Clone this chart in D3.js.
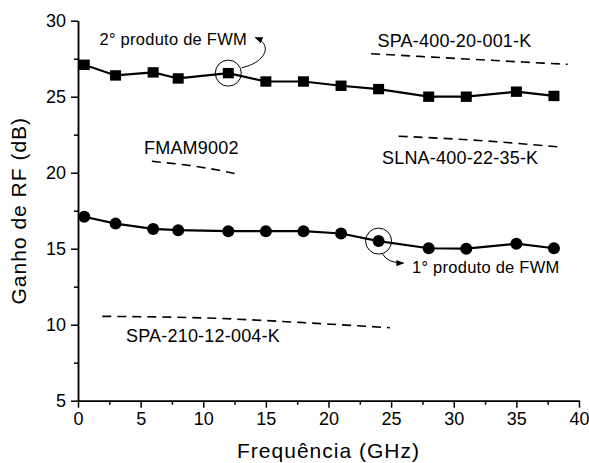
<!DOCTYPE html>
<html>
<head>
<meta charset="utf-8">
<script src="https://cdn.jsdelivr.net/npm/d3@7"></script>
<style>
  body { margin: 0; background: #fff; }
  text { font-family: Arial, "Liberation Sans", sans-serif; fill: #000; }
</style>
</head>
<body>
<svg></svg>
<script>
const width = 589, height = 463;
const margin = { left: 78, right: 10, top: 20.7, bottom: 62.3 };

// tick labels
const x_ticks = [0, 5, 10, 15, 20, 25, 30, 35, 40];
const x_minor = [2.5, 7.5, 12.5, 17.5, 22.5, 27.5, 32.5, 37.5];
const y_ticks = [5, 10, 15, 20, 25, 30];
const y_minor = [7.5, 12.5, 17.5, 22.5, 27.5];

// measured gain (dB) vs frequency (GHz)
const freq = [0.5, 3, 6, 8, 12, 15, 18, 21, 24, 28, 31, 35, 38];
const gain_fwm2 = [27.1, 26.4, 26.6, 26.2, 26.55, 26.0, 26.0, 25.72, 25.5, 25.0, 25.0, 25.33, 25.05];
const gain_fwm1 = [17.1, 16.65, 16.3, 16.22, 16.15, 16.15, 16.15, 16.0, 15.5, 15.03, 15.0, 15.33, 15.03];

// commercial amplifier reference curves [GHz, dB]
const spa400 = [[23.4, 27.83], [31, 27.48], [39.1, 27.13]];
const slna400 = [[25.6, 22.4], [32, 22.12], [38.3, 21.7]];
const fmam9002 = [[5.9, 20.75], [10.3, 20.3], [12.5, 19.95]];
const spa210 = [[1.94, 10.55], [11, 10.42], [17.7, 10.15], [24.9, 9.8]];

const svg = d3.select("svg").attr("width", width).attr("height", height);

const x_scale = d3.scaleLinear().domain([0, 40]).range([margin.left, width - margin.right]);
const y_scale = d3.scaleLinear().domain([5, 30]).range([height - margin.bottom, margin.top]);

// arrow marker
svg.append("defs").append("marker")
  .attr("id", "arrow")
  .attr("viewBox", "0 0 10 10")
  .attr("refX", 9).attr("refY", 5)
  .attr("markerWidth", 8).attr("markerHeight", 8)
  .attr("markerUnits", "userSpaceOnUse")
  .attr("orient", "auto")
  .append("path")
  .attr("d", "M0,1 L10,5 L0,9 z")
  .attr("fill", "#000");

// axes
svg.append("g")
  .attr("transform", `translate(0,${height - margin.bottom})`)
  .call(d3.axisBottom(x_scale).tickValues(x_ticks).tickSize(7).tickPadding(5).tickSizeOuter(0));
svg.append("g")
  .attr("transform", `translate(0,${height - margin.bottom})`)
  .call(d3.axisBottom(x_scale).tickValues(x_minor).tickSize(4).tickFormat("").tickSizeOuter(0));

svg.append("g")
  .attr("transform", `translate(${margin.left},0)`)
  .call(d3.axisLeft(y_scale).tickValues(y_ticks).tickSize(7).tickPadding(5).tickSizeOuter(0));
svg.append("g")
  .attr("transform", `translate(${margin.left},0)`)
  .call(d3.axisLeft(y_scale).tickValues(y_minor).tickSize(4).tickFormat("").tickSizeOuter(0));

svg.selectAll(".domain, .tick line").attr("stroke", "#000").attr("stroke-width", 1.5);
svg.selectAll(".tick text").style("font-size", "18px").attr("fill", "#000");

// axis titles
svg.append("text")
  .attr("x", (margin.left + width - margin.right) / 2)
  .attr("y", 457.5)
  .attr("text-anchor", "middle")
  .style("font-size", "21px")
  .style("letter-spacing", "1px")
  .text("Frequência (GHz)");

svg.append("text")
  .attr("transform", `translate(26,${(margin.top + height - margin.bottom) / 2}) rotate(-90)`)
  .attr("text-anchor", "middle")
  .style("font-size", "21px")
  .style("letter-spacing", "1px")
  .text("Ganho de RF (dB)");

// dashed reference curves
const ref_line = d3.line()
  .x((d) => x_scale(d[0]))
  .y((d) => y_scale(d[1]))
  .curve(d3.curveMonotoneX);

[spa400, slna400, fmam9002, spa210].forEach((curve) => {
  svg.append("path")
    .attr("fill", "none")
    .attr("stroke", "#000")
    .attr("stroke-width", 1.6)
    .attr("stroke-dasharray", "9,6")
    .attr("d", ref_line(curve));
});

// measured series
const series_line = d3.line()
  .x((d, i) => x_scale(freq[i]))
  .y((d) => y_scale(d));

svg.append("path")
  .attr("fill", "none")
  .attr("stroke", "#000")
  .attr("stroke-width", 2.2)
  .attr("d", series_line(gain_fwm2));

svg.append("path")
  .attr("fill", "none")
  .attr("stroke", "#000")
  .attr("stroke-width", 2.2)
  .attr("d", series_line(gain_fwm1));

svg.selectAll(".sq")
  .data(gain_fwm2)
  .enter()
  .append("rect")
  .attr("x", (d, i) => x_scale(freq[i]) - 5.5)
  .attr("y", (d) => y_scale(d) - 5.2)
  .attr("width", 11)
  .attr("height", 10.4)
  .attr("fill", "#000");

svg.selectAll(".dot")
  .data(gain_fwm1)
  .enter()
  .append("circle")
  .attr("cx", (d, i) => x_scale(freq[i]))
  .attr("cy", (d) => y_scale(d))
  .attr("r", 6)
  .attr("fill", "#000");

// FWM annotations: circle round a point and a curved arrow
function annotate(idx, values, arrow_d) {
  const cx = x_scale(freq[idx]), cy = y_scale(values[idx]);
  svg.append("circle")
    .attr("cx", cx).attr("cy", cy).attr("r", 13)
    .attr("fill", "none").attr("stroke", "#000").attr("stroke-width", 1);
  svg.append("path")
    .attr("transform", `translate(${cx},${cy})`)
    .attr("fill", "none").attr("stroke", "#000").attr("stroke-width", 1)
    .attr("marker-end", "url(#arrow)")
    .attr("d", arrow_d);
}
annotate(4, gain_fwm2, "M13.5,-5.5 C36,-10 46,-28 27,-35.5");
annotate(8, gain_fwm1, "M4,13 Q9,22 25,22");

const labels = [
  { text: "2° produto de FWM", x: 99.5, y: 45, size: 16.5, ls: 0.25 },
  { text: "1° produto de FWM", x: 412, y: 273, size: 16.5, ls: 0.25 },
  { text: "SPA-400-20-001-K", x: 377.5, y: 47, size: 18, ls: 0.2 },
  { text: "SLNA-400-22-35-K", x: 382, y: 164, size: 18, ls: 0.2 },
  { text: "FMAM9002", x: 144, y: 154, size: 18, ls: 0.2 },
  { text: "SPA-210-12-004-K", x: 126, y: 341.5, size: 18, ls: 0.2 },
];
svg.selectAll(".lbl")
  .data(labels)
  .enter()
  .append("text")
  .attr("x", (d) => d.x)
  .attr("y", (d) => d.y)
  .style("font-size", (d) => d.size + "px")
  .style("letter-spacing", (d) => d.ls + "px")
  .text((d) => d.text);
</script>
</body>
</html>
